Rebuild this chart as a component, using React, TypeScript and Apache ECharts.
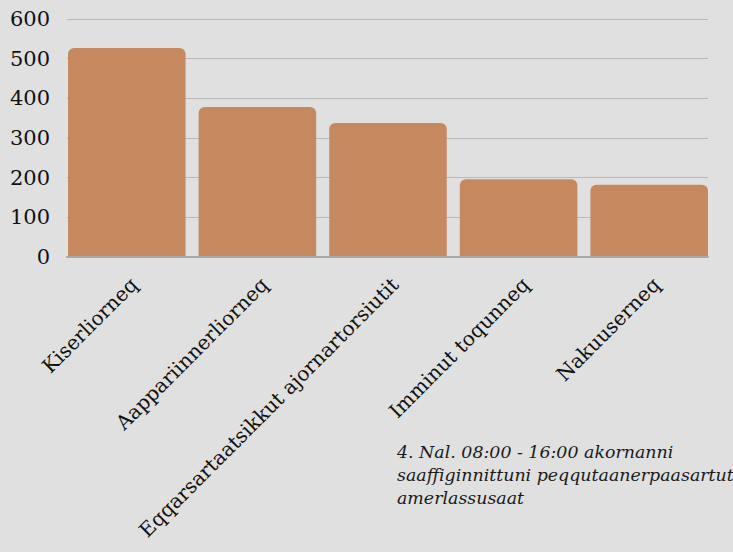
import React, { useEffect, useRef } from "react";
import * as echarts from "echarts";

const categories = [
  "Kiserliorneq",
  "Aappariinnerliorneq",
  "Eqqarsartaatsikkut ajornartorsiutit",
  "Imminut toqunneq",
  "Nakuuserneq",
];
const values = [527, 378, 338, 196, 182];
const yTicks = { min: 0, max: 600, interval: 100 };
const footnote =
  "4. Nal. 08:00 - 16:00 akornanni\nsaaffiginnittuni peqqutaanerpaasartut\namerlassusaat";

const serif = "DejaVu Serif";

export default function App() {
  const ref = useRef<HTMLDivElement>(null);
  useEffect(() => {
    document.body.style.margin = "0";
    const chart = echarts.init(ref.current!, undefined, { renderer: "svg" });
    chart.setOption({
      animation: false,
      backgroundColor: "#e0e0e0",
      textStyle: { fontFamily: serif },
      grid: [
        { left: 61.5, right: 18.5, top: 19, bottom: 295, containLabel: false },
        { left: 67, right: 25, top: 19, bottom: 295, containLabel: false },
      ],
      xAxis: [
        {
          type: "category",
          gridIndex: 0,
          data: categories,
          axisLine: { show: false },
          axisTick: { show: false },
          axisLabel: {
            rotate: 45,
            interval: 0,
            margin: 17,
            verticalAlign: "top",
            color: "#111",
            fontFamily: serif,
            fontSize: 20,
          },
        },
        {
          type: "category",
          gridIndex: 1,
          data: categories,
          z: 5,
          axisLine: { show: true, lineStyle: { color: "#a8a8a8", width: 2 } },
          axisTick: { show: false },
          axisLabel: { show: false },
        },
      ],
      yAxis: [
        {
          type: "value",
          gridIndex: 0,
          min: yTicks.min,
          max: yTicks.max,
          interval: yTicks.interval,
          axisLine: { show: false },
          axisTick: { show: false },
          splitLine: { show: false },
          axisLabel: { show: false },
        },
        {
          type: "value",
          gridIndex: 1,
          min: yTicks.min,
          max: yTicks.max,
          interval: yTicks.interval,
          axisLine: { show: false },
          axisTick: { show: false },
          splitLine: { lineStyle: { color: "#b8b8b8", width: 1 } },
          axisLabel: {
            margin: 17,
            color: "#111",
            fontFamily: serif,
            fontSize: 21,
          },
        },
      ],
      series: [
        {
          type: "bar",
          xAxisIndex: 0,
          yAxisIndex: 0,
          data: values,
          barCategoryGap: "10%",
          itemStyle: { color: "#c6885f", borderRadius: [6, 6, 0, 0] },
        },
      ],
      graphic: [
        {
          type: "text",
          left: 397,
          top: 440,
          style: {
            text: footnote,
            fill: "#1a1a1a",
            font: "italic 17.4px 'DejaVu Serif'",
            lineHeight: 23,
          },
        },
      ],
    });
    return () => chart.dispose();
  }, []);
  return (
    <div
      ref={ref}
      style={{ position: "fixed", left: 0, top: 0, width: 733, height: 552 }}
    />
  );
}
